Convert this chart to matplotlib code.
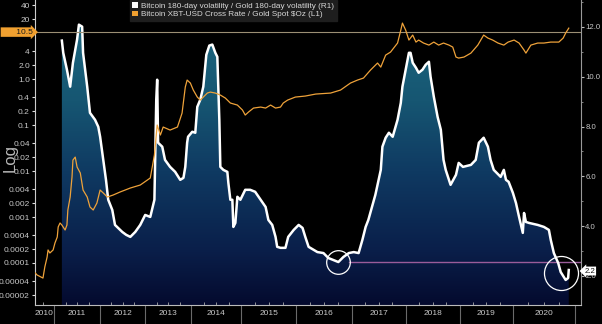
import numpy as np
import matplotlib
matplotlib.use('Agg')
import matplotlib.pyplot as plt
import matplotlib.transforms as mtransforms
from matplotlib.colors import LinearSegmentedColormap
from matplotlib.patches import Patch
from matplotlib.ticker import FixedLocator, FixedFormatter, NullLocator

plt.rcParams['font.family'] = ['Liberation Sans', 'DejaVu Sans']

# ============================================================
# Data
# ============================================================
# Bitcoin 180-day volatility / Gold 180-day volatility (R1, linear)
vol_year = [2011.17, 2011.20, 2011.28, 2011.35, 2011.41, 2011.50, 2011.54, 2011.61, 2011.63, 2011.72,
            2011.78, 2011.89, 2011.96, 2012.00, 2012.07, 2012.13, 2012.18, 2012.27, 2012.33, 2012.40,
            2012.49, 2012.58, 2012.67, 2012.78, 2012.89, 2013.00, 2013.11, 2013.20, 2013.24, 2013.26,
            2013.28, 2013.37, 2013.43, 2013.54, 2013.65, 2013.76, 2013.83, 2013.87, 2013.91, 2013.93,
            2014.02, 2014.08, 2014.12, 2014.18, 2014.24, 2014.30, 2014.36, 2014.42, 2014.48, 2014.52,
            2014.54, 2014.56, 2014.58, 2014.64, 2014.72, 2014.74, 2014.78, 2014.82, 2014.84, 2014.88,
            2014.92, 2014.98, 2015.07, 2015.16, 2015.25, 2015.35, 2015.44, 2015.49, 2015.56, 2015.62,
            2015.65, 2015.71, 2015.80, 2015.85, 2015.95, 2016.04, 2016.11, 2016.16, 2016.22, 2016.31,
            2016.38, 2016.49, 2016.58, 2016.67, 2016.76, 2016.85, 2016.95, 2017.04, 2017.13, 2017.20,
            2017.26, 2017.31, 2017.44, 2017.54, 2017.57, 2017.63, 2017.69, 2017.76, 2017.85, 2017.91,
            2017.94, 2018.00, 2018.06, 2018.09, 2018.13, 2018.19, 2018.24, 2018.31, 2018.37, 2018.43,
            2018.46, 2018.52, 2018.59, 2018.65, 2018.70, 2018.74, 2018.83, 2018.93, 2018.98, 2019.06,
            2019.21, 2019.30, 2019.36, 2019.45, 2019.53, 2019.58, 2019.64, 2019.77, 2019.83, 2019.87,
            2019.92, 2020.00, 2020.05, 2020.10, 2020.16, 2020.18, 2020.21, 2020.26, 2020.40, 2020.50,
            2020.58, 2020.61, 2020.66, 2020.73, 2020.77, 2020.85, 2020.89, 2020.90]
vol_ratio = [11.45, 10.96, 10.28, 9.60, 10.56, 11.49, 12.09, 12.01, 10.96, 9.60,
             8.55, 8.27, 7.99, 7.59, 6.66, 5.86, 5.06, 4.65, 4.05, 3.93,
             3.77, 3.65, 3.57, 3.77, 4.05, 4.45, 4.37, 5.06, 9.08, 9.88,
             7.35, 7.19, 6.66, 6.38, 6.18, 5.86, 5.94, 6.38, 7.35, 7.59,
             7.79, 7.75, 8.79, 9.08, 9.60, 10.88, 11.25, 11.29, 10.96, 10.80,
             9.60, 8.27, 6.38, 6.26, 6.18, 5.74, 5.06, 5.06, 3.97, 4.13,
             5.18, 5.06, 5.46, 5.46, 5.38, 5.06, 4.77, 4.25, 4.05, 3.57,
             3.17, 3.13, 3.13, 3.57, 3.85, 4.05, 3.93, 3.57, 3.17, 3.05,
             2.96, 2.92, 2.72, 2.64, 2.56, 2.76, 2.92, 2.96, 2.92, 3.45,
             3.97, 4.25, 5.26, 6.26, 7.19, 7.55, 7.75, 7.59, 8.27, 8.95,
             9.60, 10.28, 10.96, 10.96, 10.56, 10.36, 10.16, 10.28, 10.48, 10.60,
             10.00, 9.20, 8.39, 7.87, 6.66, 6.26, 5.66, 6.06, 6.54, 6.38,
             6.46, 6.66, 7.35, 7.55, 7.19, 6.66, 6.26, 5.98, 6.26, 5.86,
             5.78, 5.34, 4.93, 4.37, 3.73, 4.53, 4.17, 4.13, 4.05, 3.97,
             3.85, 3.45, 2.92, 2.52, 2.16, 1.84, 1.92, 2.24]

# Bitcoin XBT-USD Cross Rate / Gold Spot $Oz (L1, log)
px_year = [2010.59, 2010.63, 2010.76, 2010.80, 2010.85, 2010.87, 2010.91, 2010.98, 2011.02, 2011.07,
           2011.09, 2011.13, 2011.17, 2011.24, 2011.28, 2011.30, 2011.35, 2011.39, 2011.41, 2011.46,
           2011.50, 2011.57, 2011.63, 2011.72, 2011.78, 2011.85, 2011.93, 2012.00, 2012.07, 2012.16,
           2012.29, 2012.44, 2012.67, 2012.89, 2013.11, 2013.20, 2013.26, 2013.33, 2013.39, 2013.54,
           2013.70, 2013.80, 2013.87, 2013.91, 2013.98, 2014.04, 2014.12, 2014.18, 2014.24, 2014.32,
           2014.38, 2014.48, 2014.58, 2014.68, 2014.78, 2014.92, 2015.02, 2015.07, 2015.13, 2015.22,
           2015.35, 2015.44, 2015.53, 2015.62, 2015.71, 2015.76, 2015.84, 2015.98, 2016.16, 2016.35,
           2016.62, 2016.80, 2016.98, 2017.11, 2017.22, 2017.35, 2017.48, 2017.54, 2017.63, 2017.72,
           2017.85, 2017.91, 2017.94, 2018.00, 2018.06, 2018.13, 2018.19, 2018.24, 2018.33, 2018.43,
           2018.52, 2018.61, 2018.70, 2018.80, 2018.87, 2018.93, 2018.98, 2019.08, 2019.21, 2019.34,
           2019.45, 2019.53, 2019.62, 2019.72, 2019.83, 2019.91, 2020.02, 2020.10, 2020.18, 2020.21,
           2020.29, 2020.40, 2020.50, 2020.61, 2020.74, 2020.81, 2020.85, 2020.90]
px_ratio = [6.1e-5, 5.5e-5, 4.7e-5, 8.2e-5, 1.35e-4, 1.92e-4, 1.65e-4, 1.92e-4, 2.72e-4, 3.67e-4,
            6.07e-4, 7.41e-4, 6.70e-4, 5.21e-4, 6.70e-4, 1.42e-3, 2.72e-3, 7.41e-3, 0.0173, 0.0201,
            0.0122, 9.05e-3, 3.86e-3, 2.72e-3, 1.65e-3, 1.42e-3, 2.01e-3, 3.86e-3, 3.33e-3, 2.72e-3,
            3.01e-3, 3.49e-3, 4.27e-3, 4.96e-3, 7.05e-3, 0.0223, 0.100, 0.0607, 0.0905, 0.0778,
            0.0905, 0.182, 0.670, 0.951, 0.819, 0.577, 0.406, 0.349, 0.406, 0.496,
            0.521, 0.496, 0.449, 0.386, 0.301, 0.272, 0.212, 0.165, 0.192, 0.234,
            0.246, 0.234, 0.272, 0.234, 0.246, 0.301, 0.349, 0.406, 0.427, 0.472,
            0.496, 0.577, 0.819, 0.951, 1.05, 1.57, 2.23, 1.82, 3.32, 3.86,
            6.07, 11.6, 16.5, 11.6, 7.05, 9.05, 6.37, 7.05, 6.07, 5.48,
            6.37, 5.48, 6.07, 5.48, 4.96, 3.01, 2.86, 3.01, 3.67, 5.48,
            9.05, 7.79, 7.05, 6.07, 5.48, 6.37, 7.05, 6.07, 4.27, 3.67,
            5.48, 6.07, 6.07, 6.37, 6.37, 7.79, 10.0, 12.8]

LEFT_TICKS  = [40, 20, 4, 2, 1, 0.4, 0.2, 0.1, 0.04, 0.02, 0.01, 0.004, 0.002, 0.001,
               0.0004, 0.0002, 0.0001, 0.00004, 0.00002]
LEFT_LABELS = ['40', '20', '4', '2.0', '1.0', '0.4', '0.2', '0.1', '0.04', '0.02', '0.01',
               '0.004', '0.002', '0.001', '0.0004', '0.0002', '0.0001', '0.00004', '0.00002']
RIGHT_TICKS = [2, 4, 6, 8, 10, 12]
YEARS       = list(range(2010, 2021))

PX_MARK   = 10.5   # highlighted level on L1
VOL_LAST  = 2.2    # last value label on R1
VOL_LOW   = 2.56   # 2016 low, carried forward
LOW_DATES = [2016.745, 2020.77]
LOW_VALS  = [2.56, 2.12]

LABEL_VOL = 'Bitcoin 180-day volatility / Gold 180-day volatility (R1)'
LABEL_PX  = r'Bitcoin XBT-USD Cross Rate / Gold Spot \$Oz (L1)'

# ============================================================
# Time axis: Bloomberg-style uneven year widths
# ============================================================
EDGE_YEAR = np.arange(2010, 2023)
EDGE_POS  = np.array([8, 54, 100, 145, 191, 241, 296, 351, 405, 459, 512, 574, 636], float)

def fwd(x):
    return np.interp(x, EDGE_YEAR, EDGE_POS)

def inv(p):
    return np.interp(p, EDGE_POS, EDGE_YEAR)

X0, X1 = 2010.587, 2021.097

# ============================================================
# Figure
# ============================================================
fig = plt.figure(figsize=(6.02, 3.24), dpi=100, facecolor='black')
ax  = fig.add_axes([35 / 602, 19 / 324, 546 / 602, 305 / 324])
ax.set_xscale('function', functions=(fwd, inv))
axR = ax.twinx()
ax.set_zorder(axR.get_zorder() + 1)
ax.patch.set_visible(False)
axR.set_facecolor('black')

# gradient fill under the volatility ratio
cmap = LinearSegmentedColormap.from_list(
    'fill', [(0.0, '#040a2e'), (0.18, '#0a1f4a'), (0.44, '#0f3a62'),
             (0.67, '#165672'), (1.0, '#1e6b82')])
poly = axR.fill_between(vol_year, vol_ratio, 0, color='none', lw=0)
grad = np.linspace(0, 1, 256).reshape(-1, 1)
im = axR.imshow(grad, cmap=cmap, origin='lower', extent=[0, 1, 0, 1],
                transform=axR.transAxes, aspect='auto', zorder=1)
im.set_clip_path(poly.get_paths()[0], poly.get_transform())

axR.plot(vol_year, vol_ratio, color='white', lw=1.8, zorder=3, solid_joinstyle='round')
axR.plot([2016.95, X1], [VOL_LOW, VOL_LOW], color='#9a5c9a', lw=1.0, zorder=2)
axR.plot(LOW_DATES[:1], LOW_VALS[:1], 'o', ms=17, mfc='none', mec='white', mew=0.9, zorder=4)
axR.plot(LOW_DATES[1:], LOW_VALS[1:], 'o', ms=24.5, mfc='none', mec='white', mew=0.9, zorder=4)

# price ratio on log axis
ax.set_yscale('log')
ax.axhline(PX_MARK, color='#9c8f74', lw=0.8, zorder=1)
ax.plot(px_year, px_ratio, color='#eea23a', lw=0.9, zorder=3)

# ============================================================
# Axes styling
# ============================================================
ax.set_xlim(X0, X1)
ax.set_ylim(1.22e-5, 52.4)
axR.set_ylim(0.835, 13.08)

ax.yaxis.set_major_locator(FixedLocator(LEFT_TICKS))
ax.yaxis.set_major_formatter(FixedFormatter(LEFT_LABELS))
ax.yaxis.set_minor_locator(NullLocator())
ax.tick_params(axis='y', color='#dddddd', labelcolor='#c8c8c8', labelsize=6,
               length=2.5, width=0.8, pad=1.2)

axR.yaxis.set_major_locator(FixedLocator(RIGHT_TICKS))
axR.yaxis.set_major_formatter(FixedFormatter([f'{t:.1f}' for t in RIGHT_TICKS]))
axR.yaxis.set_minor_locator(FixedLocator([3, 5, 7, 9, 11, 13]))
axR.tick_params(axis='y', which='major', color='#bbbbbb', labelcolor='#c8c8c8',
                labelsize=5.6, length=2, width=0.8, pad=1)
axR.tick_params(axis='y', which='minor', color='#999999', length=1.5, width=0.6)

ax.xaxis.set_major_locator(FixedLocator(list(range(2011, 2022))))
ax.xaxis.set_major_formatter(FixedFormatter([''] * 11))
ax.xaxis.set_minor_locator(FixedLocator([y + q for y in YEARS for q in (0.25, 0.5, 0.75)
                                         if X0 < y + q < X1]))
ax.tick_params(axis='x', which='major', direction='out', length=14, width=0.8, color='#6a6a6a')
ax.tick_params(axis='x', which='minor', direction='in', length=2, width=0.6, color='#aaaaaa')

bt = mtransforms.blended_transform_factory(ax.transData, ax.transAxes)
for yr in YEARS:
    c = inv((fwd(max(yr, X0)) + fwd(min(yr + 1, X1))) / 2)
    ax.text(c, -0.028, str(yr), transform=bt, ha='center', va='center',
            fontsize=6, color='#c8c8c8')

for side in ['top', 'right']:
    ax.spines[side].set_visible(False)
ax.spines['left'].set_color('#cccccc')
ax.spines['bottom'].set_color('#bbbbbb')
ax.spines['left'].set_linewidth(0.8)
ax.spines['bottom'].set_linewidth(0.8)
for side in ['top', 'left', 'bottom']:
    axR.spines[side].set_visible(False)
axR.spines['right'].set_color('#999999')
axR.spines['right'].set_linewidth(0.8)

# value boxes on the axes
bl = mtransforms.blended_transform_factory(ax.transAxes, ax.transData)
ax.text(-0.004, PX_MARK, '      10.5', transform=bl, ha='right', va='center',
        fontsize=6, color='#1a1a1a', zorder=10,
        bbox=dict(boxstyle='rarrow,pad=0.15', fc='#f0a030', ec='none'))
br = mtransforms.blended_transform_factory(axR.transAxes, axR.transData)
axR.text(1.006, VOL_LAST, '2.2', transform=br, ha='left', va='center',
         fontsize=5.6, color='#111111', zorder=10,
         bbox=dict(boxstyle='larrow,pad=0.12', fc='white', ec='none'))

fig.text(10 / 602, 1 - 158 / 324, 'Log', rotation=90, fontsize=12, color='#b8b8b8',
         ha='center', va='center')

handles = [Patch(fc='white', ec='none'), Patch(fc='#f0a030', ec='none')]
leg = ax.legend(handles, [LABEL_VOL, LABEL_PX], loc='upper left',
                bbox_to_anchor=(130 / 602, 1.0), bbox_transform=fig.transFigure,
                fontsize=5.9, frameon=True, facecolor='#1e1e1e', edgecolor='#1e1e1e',
                framealpha=1, fancybox=False, handlelength=0.7, handleheight=0.7,
                handletextpad=0.4, borderpad=0.3, labelspacing=0.05, borderaxespad=0,
                labelcolor='#d8d8d8')
leg.set_zorder(20)

fig.savefig('out.png', dpi=100, facecolor='black')
